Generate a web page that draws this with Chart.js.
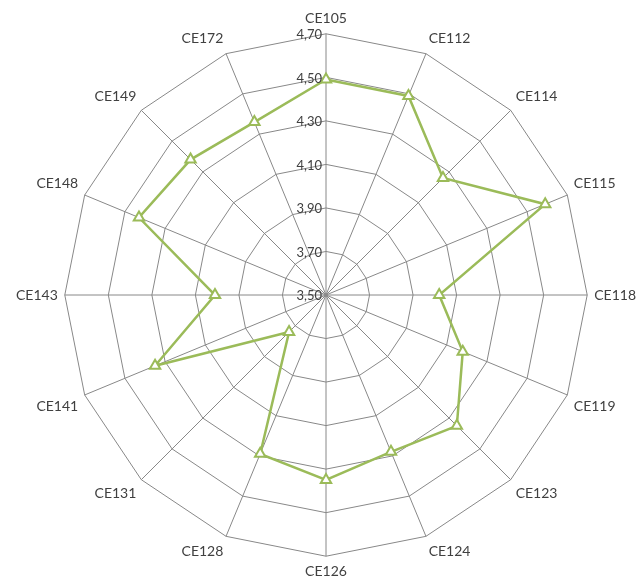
<!DOCTYPE html>
<html>
<head>
<meta charset="utf-8">
<script src="https://cdn.jsdelivr.net/npm/chart.js@4/dist/chart.umd.min.js"></script>
<style>
    html, body { margin: 0; padding: 0; background: #fff; }
    #radarChart { display: block; }
</style>
</head>
<body>
<canvas id="radarChart" width="637" height="587"></canvas>
<script>
// Dados do gráfico
const categorias = ['CE105', 'CE112', 'CE114', 'CE115', 'CE118', 'CE119', 'CE123', 'CE124',
    'CE126', 'CE128', 'CE131', 'CE141', 'CE143', 'CE148', 'CE149', 'CE172'];
const valores = [4.49, 4.49, 4.26, 4.59, 4.02, 4.18, 4.35, 4.28,
    4.35, 4.29, 3.74, 4.35, 4.01, 4.43, 4.38, 4.36];
const valoresEscala = [3.5, 3.7, 3.9, 4.1, 4.3, 4.5, 4.7];
const rotulosEscala = ['3,50', '3,70', '3,90', '4,10', '4,30', '4,50', '4,70'];

const corLinha = '#9BBB59';
const corGrade = '#888888';
const corTexto = '#404040';
const fonte = 'Lato, "Liberation Sans", sans-serif';

// Rótulos da escala à esquerda do eixo vertical (o Chart.js esconde o primeiro)
const pluginRotulos = {
    id: 'pluginRotulos',
    afterDraw(chart) {
        const escala = chart.scales.r;
        const ctx = chart.ctx;
        ctx.save();
        ctx.font = '13px ' + fonte;
        ctx.fillStyle = corTexto;
        ctx.textAlign = 'right';
        ctx.textBaseline = 'middle';
        valoresEscala.forEach((v, i) => {
            const dist = escala.getDistanceFromCenterForValue(v);
            ctx.fillText(rotulosEscala[i], escala.xCenter - 4, escala.yCenter - dist + 1);
        });
        ctx.restore();
    }
};

const ctx = document.getElementById('radarChart').getContext('2d');
const radarChart = new Chart(ctx, {
    type: 'radar',
    data: {
        labels: categorias,
        datasets: [{
            data: valores,
            borderColor: corLinha,
            borderWidth: 2.5,
            fill: false,
            pointStyle: 'triangle',
            pointRadius: 6,
            pointBorderWidth: 2,
            pointBackgroundColor: '#ffffff',
            pointBorderColor: corLinha,
            tension: 0
        }]
    },
    options: {
        responsive: false,
        animation: false,
        layout: { padding: { top: 8, bottom: 4, left: 16, right: -2 } },
        plugins: {
            legend: { display: false },
            tooltip: { enabled: false }
        },
        scales: {
            r: {
                min: 3.5,
                max: 4.7,
                ticks: { display: false, stepSize: 0.2 },
                grid: { color: corGrade, lineWidth: 1 },
                angleLines: { color: corGrade, lineWidth: 1 },
                pointLabels: {
                    color: corTexto,
                    font: { family: fonte, size: 14 },
                    padding: 7
                }
            }
        }
    },
    plugins: [pluginRotulos]
});
</script>
</body>
</html>
